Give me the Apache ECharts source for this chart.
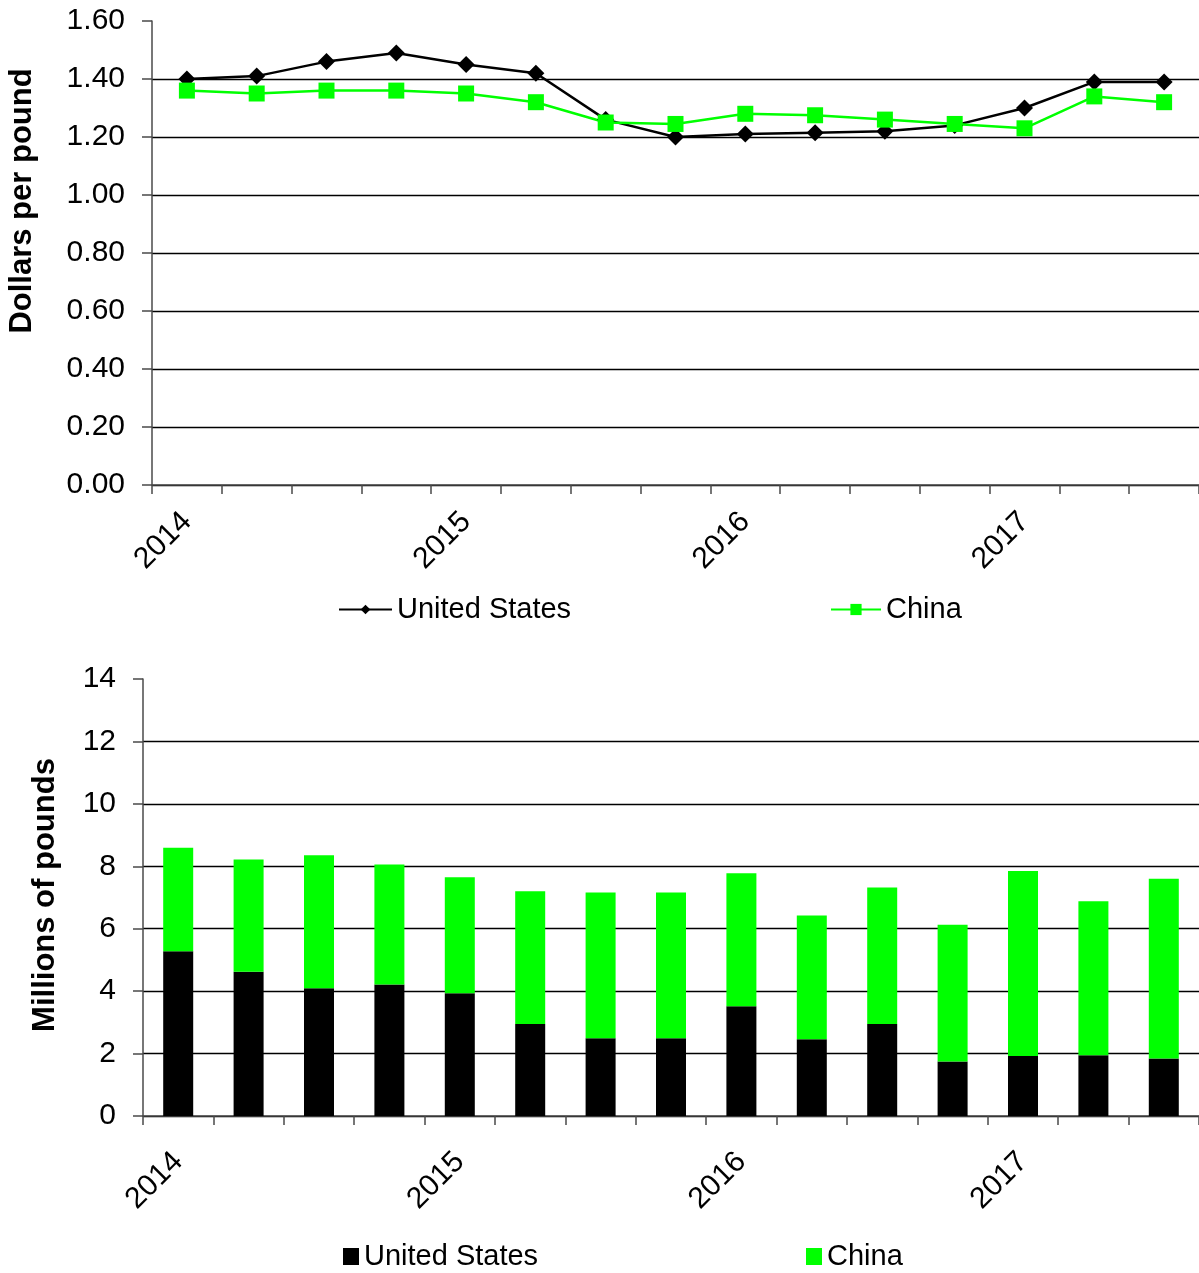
<!DOCTYPE html>
<html>
<head>
<meta charset="utf-8">
<script src="https://cdn.jsdelivr.net/npm/echarts@6/dist/echarts.min.js"></script>
<style>
html,body{margin:0;padding:0;background:#fff;}
#chart{width:1199px;height:1273px;}
</style>
</head>
<body>
<div id="chart"></div>
<script>
// Quarterly categories (2014 Q1 .. 2017 Q3)
const categories = ['2014 Q1','2014 Q2','2014 Q3','2014 Q4','2015 Q1','2015 Q2','2015 Q3','2015 Q4','2016 Q1','2016 Q2','2016 Q3','2016 Q4','2017 Q1','2017 Q2','2017 Q3'];
const tickLabels = ['2014','','','','2015','','','','2016','','','','2017','',''];

// Top panel: unit values, dollars per pound
const priceUS    = [1.40, 1.41, 1.46, 1.49, 1.45, 1.42, 1.26, 1.20, 1.21, 1.215, 1.22, 1.24, 1.30, 1.39, 1.39];
const priceChina = [1.36, 1.35, 1.36, 1.36, 1.35, 1.32, 1.25, 1.245, 1.28, 1.275, 1.26, 1.245, 1.23, 1.34, 1.32];

// Bottom panel: quantities, millions of pounds
const qtyUS    = [5.28, 4.62, 4.09, 4.21, 3.93, 2.95, 2.49, 2.49, 3.52, 2.46, 2.95, 1.75, 1.92, 1.95, 1.84];
const qtyChina = [3.31, 3.60, 4.26, 3.85, 3.72, 4.25, 4.67, 4.67, 4.26, 3.96, 4.37, 4.38, 5.93, 4.93, 5.76];

const priceTicks = {min: 0, max: 1.6, interval: 0.2};
const qtyTicks = {min: 0, max: 14, interval: 2};

const FONT = '"Liberation Sans", Arial, sans-serif';
const axisGray = '#4a4a4a';

const chart = echarts.init(document.getElementById('chart'), null, {renderer: 'canvas'});

function xAxisCfg(gridIndex, margin) {
  return {
    type: 'category', gridIndex, data: categories, boundaryGap: true,
    axisLine: {show: true, lineStyle: {color: axisGray, width: 1.5}},
    axisTick: {show: true, interval: 0, length: 9, lineStyle: {color: axisGray, width: 1.5}},
    axisLabel: {
      interval: 0, rotate: 45, margin, color: '#000', fontSize: 30, fontFamily: FONT,
      formatter: (v, i) => tickLabels[i]
    },
    splitLine: {show: false}
  };
}
function yAxisCfg(gridIndex, ticks, decimals, margin) {
  return {
    type: 'value', gridIndex, min: ticks.min, max: ticks.max, interval: ticks.interval,
    axisLine: {show: true, lineStyle: {color: axisGray, width: 1.5}},
    axisTick: {show: true, length: 10, lineStyle: {color: axisGray, width: 1.5}},
    axisLabel: {
      margin, color: '#000', fontSize: 30, fontFamily: FONT,
      formatter: v => v.toFixed(decimals)
    },
    splitLine: {show: true, showMaxLine: false, lineStyle: {color: '#000', width: 1.3}}
  };
}

const legendText = {fontSize: 29, color: '#000', fontFamily: FONT};

chart.setOption({
  animation: false,
  backgroundColor: '#fff',
  textStyle: {fontFamily: FONT},
  grid: [
    {left: 152, top: 21, width: 1047, height: 464},
    {left: 143, top: 679, width: 1056, height: 437}
  ],
  xAxis: [xAxisCfg(0, 32), xAxisCfg(1, 41)],
  yAxis: [yAxisCfg(0, priceTicks, 2, 27), yAxisCfg(1, qtyTicks, 0, 27)],
  legend: [
    {left: 333, top: 590, itemWidth: 53, itemHeight: 12, data: ['United States'], textStyle: legendText},
    {left: 825, top: 590, itemWidth: 50, itemHeight: 14, data: ['China'], textStyle: legendText},
    {left: 338, top: 1237, itemWidth: 16, itemHeight: 17, icon: 'rect', data: ['United States '],
     textStyle: legendText, formatter: n => n.trim()},
    {left: 801, top: 1237, itemWidth: 16, itemHeight: 17, icon: 'rect', data: ['China '],
     textStyle: legendText, formatter: n => n.trim()}
  ],
  graphic: [
    {type: 'text', x: 22, y: 201, rotation: Math.PI / 2,
     style: {text: 'Dollars per pound', font: 'bold 31px ' + FONT, fill: '#000', textAlign: 'center', textVerticalAlign: 'middle'}},
    {type: 'text', x: 45, y: 895, rotation: Math.PI / 2,
     style: {text: 'Millions of pounds', font: 'bold 31px ' + FONT, fill: '#000', textAlign: 'center', textVerticalAlign: 'middle'}}
  ],
  series: [
    {name: 'United States', type: 'line', xAxisIndex: 0, yAxisIndex: 0, data: priceUS,
     color: '#000', symbol: 'diamond', symbolSize: 17, lineStyle: {width: 2.5, color: '#000'},
     itemStyle: {color: '#000'}},
    {name: 'China', type: 'line', xAxisIndex: 0, yAxisIndex: 0, data: priceChina,
     color: '#00ff00', symbol: 'rect', symbolSize: 16, lineStyle: {width: 2.5, color: '#00ff00'},
     itemStyle: {color: '#00ff00'}},
    {name: 'United States ', type: 'bar', xAxisIndex: 1, yAxisIndex: 1, stack: 'qty', data: qtyUS,
     barWidth: 30, itemStyle: {color: '#000'}},
    {name: 'China ', type: 'bar', xAxisIndex: 1, yAxisIndex: 1, stack: 'qty', data: qtyChina,
     barWidth: 30, itemStyle: {color: '#00ff00'}}
  ]
});
</script>
</body>
</html>
